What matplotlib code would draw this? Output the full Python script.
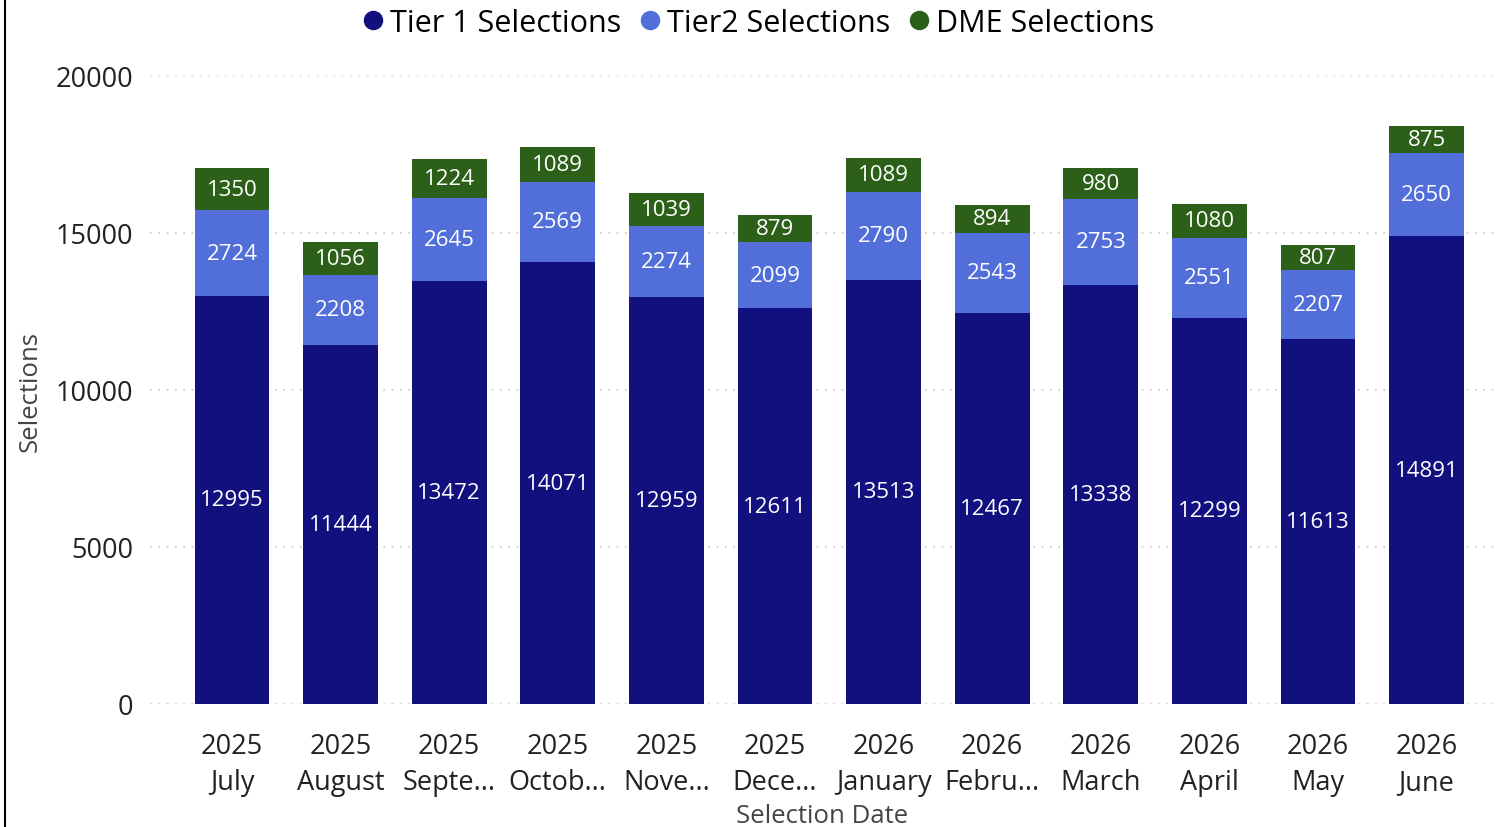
import matplotlib.pyplot as plt
from matplotlib.lines import Line2D
import numpy as np

plt.rcParams['font.family'] = ['Open Sans', 'DejaVu Sans']

years = ['2025', '2025', '2025', '2025', '2025', '2025',
         '2026', '2026', '2026', '2026', '2026', '2026']
months = ['July', 'August', 'Septe...', 'Octob...', 'Nove...', 'Dece...',
          'January', 'Febru...', 'March', 'April', 'May', 'June']
tier1 = [12995, 11444, 13472, 14071, 12959, 12611, 13513, 12467, 13338, 12299, 11613, 14891]
tier2 = [2724, 2208, 2645, 2569, 2274, 2099, 2790, 2543, 2753, 2551, 2207, 2650]
dme = [1350, 1056, 1224, 1089, 1039, 879, 1089, 894, 980, 1080, 807, 875]

c_t1 = '#12107F'
c_t2 = '#516ED9'
c_dme = '#2C5F17'

fig = plt.figure(figsize=(14.96, 8.28), dpi=100)
W, H = 1496, 828
ax = fig.add_axes([150 / W, 1 - 705 / H, (1495 - 150) / W, (705 - 77) / H])

x = np.arange(len(months))
t1 = np.array(tier1)
t2 = np.array(tier2)
d = np.array(dme)
w = 0.69
b1 = ax.bar(x, t1, w, color=c_t1, label='Tier 1 Selections')
b2 = ax.bar(x, t2, w, bottom=t1, color=c_t2, label='Tier2 Selections')
b3 = ax.bar(x, d, w, bottom=t1 + t2, color=c_dme, label='DME Selections')
for bars in (b1, b2, b3):
    ax.bar_label(bars, label_type='center', color='white', fontsize=16)

ax.set_xlim(-0.755, 11.63)
ax.set_ylim(0, 20000)
ax.set_yticks([0, 5000, 10000, 15000, 20000])
ax.yaxis.grid(True, linestyle=(0, (1, 4)), color='#c8c8c8', lw=1.2)
ax.set_axisbelow(True)
for s in ax.spines.values():
    s.set_visible(False)
ax.tick_params(length=0, labelsize=19.5, colors='#222222')
ax.tick_params(axis='x', pad=20)
ax.tick_params(axis='y', pad=12)
ax.set_xticks(x)
ax.set_xticklabels([f'{y}\n{m}' for y, m in zip(years, months)], linespacing=1.4)
ax.set_xlabel('Selection Date', fontsize=18.5, color='#444444', labelpad=0)
ax.set_ylabel('Selections', fontsize=18.5, color='#444444', labelpad=10)
ax.yaxis.set_label_coords(-(150 - 30) / (1495 - 150), 0.5)
ax.xaxis.set_label_coords(0.5, -(817 - 705) / (705 - 77))
ax.xaxis.label.set_va('center')
ax.yaxis.label.set_va('center')

handles = [Line2D([], [], marker='o', ls='', color=c, markersize=13)
           for c in (c_t1, c_t2, c_dme)]
fig.legend(handles, ['Tier 1 Selections', 'Tier2 Selections', 'DME Selections'],
           loc='center', bbox_to_anchor=(757 / W, 1 - 24 / H), ncol=3, frameon=False,
           fontsize=22, handletextpad=0.1, columnspacing=0.5, handlelength=0.9)

fig.add_artist(Line2D([5 / W, 5 / W], [0, 1], color='black', lw=1.5))

fig.savefig('out.png', dpi=100)
